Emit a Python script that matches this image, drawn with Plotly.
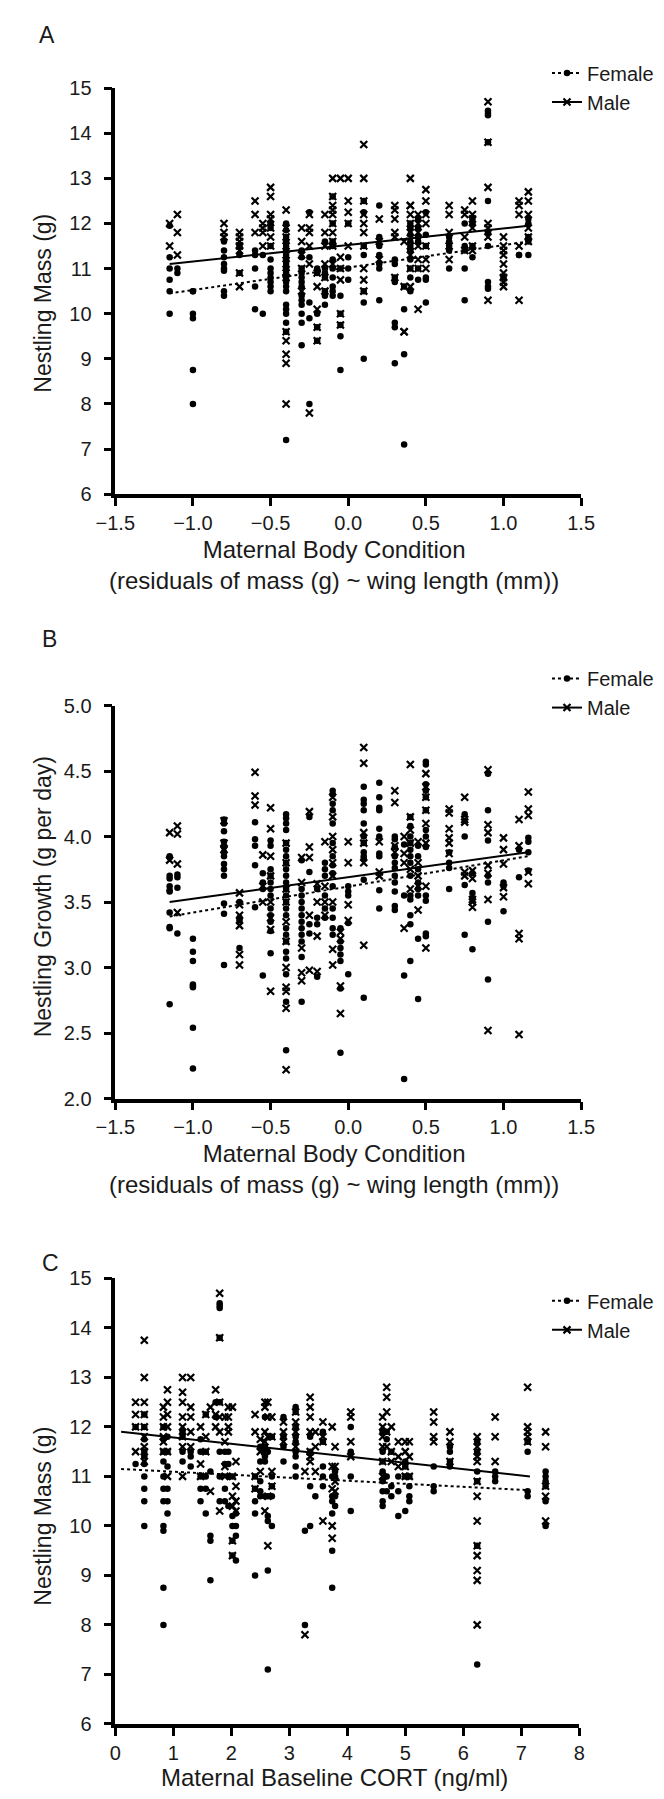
import plotly.graph_objects as go

# ---------------- Panel A / B shared x columns (maternal body condition) -------------
BC_COLS = [-1.15, -1.10, -1.00, -0.80, -0.70, -0.60, -0.55, -0.50, -0.40, -0.30,
           -0.25, -0.20, -0.15, -0.10, -0.05, 0.00, 0.10, 0.20, 0.30, 0.36,
           0.40, 0.45, 0.50, 0.65, 0.75, 0.80, 0.90, 1.00, 1.10, 1.16]

# Panel A: nestling mass (g)
A_FEMALE = [
    [11.95, 11.25, 11.0, 10.75, 10.5, 10.0],
    [11.0, 10.9],
    [10.5, 10.5, 10.0, 9.9, 8.75, 8.0],
    [11.6, 11.4, 11.25, 11.1, 11.0, 10.95, 10.5, 10.4],
    [11.5, 11.3, 10.9],
    [11.4, 11.3, 11.0, 10.6, 10.1],
    [11.3, 10.0],
    [12.0, 11.9, 11.5, 11.2, 11.0, 10.9, 10.8, 10.7, 10.6, 10.5],
    [12.0, 11.85, 11.7, 11.6, 11.5, 11.4, 11.3, 11.2, 11.1, 11.0, 10.9, 10.8, 10.7,
     10.6, 10.5, 10.2, 10.1, 10.0, 9.8, 9.6, 7.2],
    [11.4, 11.25, 11.0, 10.9, 10.8, 10.7, 10.6, 10.4, 10.3, 10.2, 10.0, 9.8, 9.3],
    [12.25, 11.25, 10.25, 9.9, 8.0],
    [11.0, 10.9, 10.0, 9.7, 9.4],
    [11.6, 11.0, 10.9, 10.8, 10.5, 10.4, 10.2],
    [12.6, 12.0, 11.6, 11.5, 11.2, 11.0, 10.8, 10.6, 10.5, 10.4],
    [11.0, 10.4, 10.0, 9.75, 9.5, 8.75],
    [12.0, 11.25, 11.0, 10.75],
    [12.5, 12.25, 11.5, 11.3, 10.5, 10.25, 9.0],
    [12.4, 11.7, 11.5, 11.3, 11.1, 11.0, 10.3],
    [11.2, 11.1, 10.8, 10.7, 9.8, 9.7, 8.9],
    [10.6, 10.1, 9.1, 7.1],
    [12.0, 11.9, 11.75, 11.6, 11.5, 11.4, 11.2, 11.0, 10.8, 10.5],
    [12.1, 11.9, 11.7, 11.6, 11.0, 10.75],
    [12.25, 11.75, 11.5, 10.8, 10.75, 10.25],
    [11.7, 11.6, 11.5, 11.4, 11.0],
    [12.0, 11.5, 11.4, 11.0, 10.3],
    [12.1, 12.0, 11.5, 11.25],
    [14.5, 14.45, 14.4, 13.8, 12.5, 11.8, 11.5, 10.7, 10.6, 10.55],
    [10.8],
    [11.3, 11.3],
    [12.1, 12.0, 11.7, 11.6, 11.3],
]
A_MALE = [
    [12.0, 11.5],
    [12.2, 11.8, 11.3],
    [],
    [12.0, 11.8, 11.7],
    [11.8, 11.7, 11.6, 11.5, 11.4, 10.9, 10.6],
    [12.5, 12.2, 11.8],
    [12.0, 11.9, 11.8, 11.5],
    [12.8, 12.6, 12.2, 12.1, 11.9, 11.7, 11.5],
    [12.3, 11.9, 11.7, 11.5, 11.3, 11.1, 10.9, 10.8, 9.6, 9.4, 9.1, 8.9, 8.0],
    [11.9, 11.6, 11.3, 11.0, 10.5],
    [12.2, 11.9, 11.8, 11.5, 11.1, 7.8],
    [10.9, 10.6, 10.1, 9.7, 9.4],
    [12.2, 11.8, 11.5, 11.1, 10.8, 10.5],
    [13.0, 12.6, 12.4, 12.3, 12.2, 12.0, 11.8, 11.6, 11.5, 11.1],
    [13.0, 11.25, 11.0, 10.75, 10.0, 9.75],
    [13.0, 12.5, 12.25, 12.0, 11.5],
    [13.75, 13.0, 12.5, 12.2, 12.0, 11.8, 11.5, 11.0, 10.75, 10.5],
    [12.1, 11.6, 11.2],
    [12.4, 12.3, 12.1, 11.8, 11.7, 10.8],
    [11.6, 10.6, 9.6, 9.6],
    [13.0, 12.4, 12.4, 12.2, 12.0, 11.8, 11.5, 11.3, 11.0, 10.6],
    [12.2, 12.0, 11.8, 11.5, 11.2, 11.0, 10.1],
    [12.75, 12.5, 12.2, 12.0, 11.5, 11.2, 11.0],
    [12.4, 12.2, 11.8, 11.5, 11.2],
    [12.3, 12.2, 11.7, 11.4],
    [12.5, 12.2, 12.1, 11.9, 11.5, 11.4],
    [14.7, 13.8, 12.8, 12.0, 11.9, 11.7, 10.3],
    [11.7, 11.5, 11.4, 11.3, 11.1, 10.9, 10.8, 10.7, 10.6],
    [12.5, 12.4, 12.2, 11.5, 10.3],
    [12.7, 12.5, 12.2, 11.9, 11.7, 11.6],
]
A_FIT_X = [-1.15, 1.16]
A_FIT_FEMALE = [10.45, 11.6]
A_FIT_MALE = [11.1, 11.95]

# Panel B: nestling growth (g per day)
B_FEMALE = [
    [3.85, 3.84, 3.70, 3.68, 3.62, 3.59, 3.58, 3.42, 3.31, 3.30, 2.72],
    [3.71, 3.69, 3.61, 3.26],
    [3.22, 3.12, 3.05, 2.87, 2.86, 2.85, 2.54, 2.23],
    [4.13, 4.10, 4.04, 3.96, 3.92, 3.88, 3.85, 3.79, 3.75, 3.70, 3.49, 3.41, 3.02],
    [3.50, 3.38, 3.36, 3.15],
    [4.11, 3.98, 3.93, 3.78, 3.46],
    [3.72, 3.65, 3.60, 2.94],
    [3.97, 3.93, 3.75, 3.70, 3.65, 3.60, 3.55, 3.45, 3.40, 3.35, 3.28, 3.11],
    [4.17, 4.14, 4.10, 4.05, 3.95, 3.90, 3.85, 3.80, 3.75, 3.70, 3.65, 3.60, 3.55,
     3.50, 3.45, 3.40, 3.30, 3.25, 3.20, 3.12, 3.07, 2.95, 2.74, 2.37],
    [3.82, 3.60, 3.55, 3.50, 3.45, 3.40, 3.35, 3.30, 3.25, 3.20, 3.08, 2.74],
    [4.15, 3.73, 3.33, 3.26],
    [3.60, 3.38, 3.33, 2.93],
    [3.80, 3.75, 3.70, 3.55, 3.45, 3.38],
    [4.35, 4.32, 4.25, 4.20, 4.10, 3.95, 3.85, 3.78, 3.72, 3.62, 3.45, 3.38, 3.30, 3.25],
    [3.30, 3.20, 3.15, 3.10, 3.05, 2.84, 2.35],
    [3.62, 3.58, 3.55, 3.34, 2.95],
    [4.38, 4.28, 4.25, 4.20, 4.10, 4.00, 3.95, 3.88, 3.85, 3.83, 3.67, 2.77],
    [4.41, 4.30, 4.22, 4.20, 4.06, 4.00, 3.87, 3.85, 3.59, 3.45],
    [4.00, 3.98, 3.92, 3.85, 3.80, 3.76, 3.70, 3.65, 3.58, 3.47, 3.44],
    [3.94, 3.55, 2.94, 2.15],
    [4.15, 4.08, 4.00, 3.95, 3.90, 3.85, 3.80, 3.70, 3.55, 3.52, 3.40, 3.33, 3.05],
    [3.93, 3.85, 3.75, 3.65, 3.60, 3.55, 3.22, 2.76],
    [4.57, 4.55, 4.40, 4.35, 4.30, 4.20, 4.05, 4.00, 3.92, 3.55, 3.51, 3.26, 3.24],
    [3.88, 3.80, 3.76, 3.60],
    [4.17, 4.00, 3.63, 3.25],
    [3.72, 3.57, 3.53, 3.14],
    [4.48, 4.20, 3.97, 3.70, 3.65, 3.35, 2.91],
    [3.65, 3.62, 3.43],
    [3.90, 3.69],
    [3.99, 3.96, 3.88, 3.74],
]
B_MALE = [
    [4.03, 3.82],
    [4.08, 4.02, 3.79, 3.42],
    [],
    [4.12, 3.95, 3.90],
    [3.57, 3.48, 3.40, 3.32, 3.10, 3.02],
    [4.49, 4.31, 4.24],
    [3.86, 3.62, 3.50],
    [4.22, 4.06, 3.85, 3.70, 3.50, 3.38, 3.29, 2.82],
    [3.95, 3.80, 3.60, 3.50, 3.35, 3.20, 3.00, 2.85, 2.82, 2.69, 2.22],
    [3.84, 3.65, 3.15, 2.96, 2.90],
    [4.19, 3.92, 3.84, 3.40, 2.98],
    [3.64, 3.50, 3.24, 2.97],
    [3.96, 3.62, 3.50, 3.40],
    [4.30, 4.15, 4.00, 3.90, 3.80, 3.70, 3.50, 3.14, 3.02],
    [3.27, 3.22, 2.86, 2.65],
    [3.96, 3.80, 3.48, 3.36],
    [4.68, 4.56, 4.03, 3.95, 3.80, 3.17],
    [3.96, 3.73, 3.70],
    [4.35, 4.26, 3.93, 3.88],
    [4.00, 3.87, 3.80, 3.30],
    [4.55, 4.15, 4.05, 3.95, 3.75, 3.60],
    [3.96, 3.80, 3.70, 3.62, 3.44],
    [4.48, 4.38, 4.30, 4.20, 4.10, 3.95, 3.62, 3.15],
    [4.21, 4.18, 4.06, 3.99, 3.95, 3.87],
    [4.30, 4.13, 4.11, 3.73, 3.70],
    [3.74, 3.68, 3.52, 3.50, 3.46],
    [4.51, 4.09, 4.03, 3.78, 3.72, 3.52, 2.52],
    [3.99, 3.90, 3.79, 3.61, 3.54],
    [4.13, 3.93, 3.26, 3.22, 2.49],
    [4.34, 4.21, 4.16, 3.73, 3.64],
]
B_FIT_X = [-1.15, 1.16]
B_FIT_FEMALE = [3.39, 3.85]
B_FIT_MALE = [3.50, 3.88]

# Panel C: maternal baseline CORT (ng/ml) vs nestling mass (g)
C_COLS = [0.35, 0.50, 0.83, 0.90, 1.16, 1.30, 1.47, 1.56, 1.64, 1.73, 1.80, 1.89,
          1.95, 2.02, 2.08, 2.41, 2.50, 2.58, 2.63, 2.70, 2.90, 3.11, 3.27, 3.36,
          3.45, 3.58, 3.74, 3.79, 4.06, 4.61, 4.68, 4.76, 4.88, 5.00, 5.07, 5.49,
          5.77, 6.24, 6.55, 7.11, 7.42]
C_FEMALE = [
    [12.0, 11.25],
    [12.25, 12.0, 11.75, 11.5, 11.4, 11.25, 11.0, 10.75, 10.5, 10.0],
    [12.0, 11.75, 11.5, 11.3, 11.0, 10.75, 10.5, 10.0, 9.9, 8.75, 8.0],
    [11.8, 11.5, 11.2, 10.75, 10.5, 10.25],
    [11.9, 11.8, 11.5, 11.3],
    [11.5, 11.4, 11.2],
    [11.75, 11.5, 11.0, 10.75, 10.5],
    [12.25, 11.5, 11.0, 10.75, 10.25],
    [11.1, 9.8, 9.7, 8.9],
    [12.5, 12.2],
    [14.5, 14.45, 14.4, 13.8, 12.5, 11.5, 11.0, 10.5],
    [11.5, 11.25, 10.75, 10.5],
    [11.5, 11.25, 11.0, 10.4],
    [11.0, 10.2, 10.0, 9.7, 9.4],
    [10.25, 10.0, 9.8, 9.3],
    [11.0, 10.75, 10.5, 10.25, 9.0],
    [11.6, 11.3, 10.9, 10.7, 10.6],
    [12.2, 11.6, 11.5, 11.4, 11.3, 10.6],
    [11.5, 10.6, 10.2, 10.1, 9.1, 7.1],
    [11.8, 11.0, 10.8, 10.6, 10.0],
    [12.2, 11.8, 11.6, 11.3],
    [12.4, 12.3, 12.0, 11.8, 11.7, 11.5, 11.4, 11.2, 11.0],
    [9.9, 8.0],
    [11.8, 11.5, 10.8, 10.0],
    [10.6],
    [11.9, 11.7, 11.2, 11.0, 10.8],
    [11.0, 10.6, 10.5, 10.25, 9.5, 8.75],
    [11.1, 11.0, 10.6, 10.4],
    [12.0, 11.5, 11.0, 10.3],
    [11.9, 11.5, 11.3, 11.1, 10.9, 10.7, 10.5, 10.4],
    [11.9, 11.75, 11.0, 10.7],
    [11.5, 10.8, 10.6],
    [11.0, 10.7, 10.2],
    [11.3, 11.2, 11.0, 10.3],
    [11.0, 10.8, 10.6, 10.5],
    [11.2, 10.8, 10.7],
    [11.6, 11.5, 11.3, 11.2],
    [11.7, 11.5, 11.1, 10.9, 9.6, 7.2],
    [11.1, 11.0, 10.9],
    [11.7, 11.5, 10.7, 10.6],
    [11.1, 11.0, 10.9, 10.8, 10.5, 10.0],
]
C_MALE = [
    [12.5, 12.25, 12.0, 11.5],
    [13.75, 13.0, 12.5, 12.25, 12.0, 11.8, 11.6, 11.5, 11.3],
    [12.4, 12.2, 12.0, 11.8, 11.7, 11.5],
    [12.75, 12.5, 12.25, 12.0, 11.5, 11.0],
    [13.0, 12.7, 12.5, 12.2, 12.0, 11.8, 11.6, 11.0],
    [13.0, 12.4, 12.2, 11.9, 11.6],
    [12.0, 11.25, 11.0],
    [12.25, 11.8, 11.5],
    [12.4, 10.7],
    [12.75, 12.25, 12.0],
    [14.7, 13.8, 12.5, 12.2, 11.9, 10.3],
    [12.2, 11.7, 11.2, 11.0],
    [12.4, 12.2, 12.0, 11.9],
    [12.4, 11.0, 10.6, 10.4, 9.7, 9.4],
    [11.3, 10.8, 10.5, 10.3],
    [12.25, 11.9, 11.0, 10.75],
    [11.75, 11.5, 11.1],
    [12.5, 12.4, 11.9, 11.7, 11.5, 10.3],
    [12.5, 12.2, 11.8, 10.6, 9.6],
    [12.2, 11.8, 11.1, 10.8],
    [12.1, 11.9, 11.7],
    [12.3, 12.1, 11.9, 11.6],
    [11.1, 7.8],
    [12.6, 12.4, 12.2, 11.9, 11.5, 11.4, 11.3],
    [11.9, 11.6, 11.1],
    [12.1, 11.8, 11.7, 10.1],
    [12.0, 11.2, 10.75, 10.0, 9.75],
    [11.6, 11.2, 10.9, 10.7],
    [12.3, 12.2, 11.7, 11.4],
    [12.2, 12.0, 11.8, 11.6, 11.3, 11.0],
    [12.8, 12.6, 12.3, 11.9, 11.6],
    [12.0, 11.5, 11.3],
    [11.7, 11.4, 11.2],
    [11.7, 11.5, 11.2, 11.0],
    [11.7, 11.4, 11.0],
    [12.3, 12.1, 11.8, 11.7],
    [11.9, 11.7, 11.3],
    [11.8, 11.6, 11.4, 11.3, 10.9, 10.6, 10.1, 9.6, 9.4, 9.1, 8.9, 8.0],
    [12.2, 11.8, 11.3],
    [12.8, 12.0, 11.9, 11.8, 11.7],
    [11.9, 11.6, 10.8, 10.6, 10.1],
]
C_FIT_X = [0.1, 7.15]
C_FIT_FEMALE = [11.15, 10.72]
C_FIT_MALE = [11.9, 11.0]

PANEL_LABELS = ["A", "B", "C"]
LEGEND_NAMES = ["Female", "Male"]
X_TITLES = ["Maternal Body Condition<br>(residuals of mass (g) ~ wing length (mm))",
            "Maternal Body Condition<br>(residuals of mass (g) ~ wing length (mm))",
            "Maternal Baseline CORT (ng/ml)"]
Y_TITLES = ["Nestling Mass (g)", "Nestling Growth (g per day)", "Nestling Mass (g)"]


def flatten(cols, groups):
    xs, ys = [], []
    for c, g in zip(cols, groups):
        for v in g:
            xs.append(c)
            ys.append(v)
    return xs, ys


FONT = "Liberation Sans, Arial, sans-serif"
TXT = "#1a1a1a"
W, H = 664, 1799

# pixel layout (top-left origin)
PANELS = [
    dict(left=92, right=583, top=70, bottom=481, label=16, labx=9, leg=35,
         xt=553, yt=288),
    dict(left=92, right=583, top=695, bottom=1093, label=628, labx=13, leg=648,
         xt=1164, yt=889),
    dict(left=92, right=581, top=1275, bottom=1726, label=1259, labx=13, leg=1278,
         xt=1780, yt=1516),
]


def py(v):
    return 1 - v / H


def px(v):
    return v / W


fig = go.Figure()

panel_data = [
    (BC_COLS, A_FEMALE, A_MALE, A_FIT_X, A_FIT_FEMALE, A_FIT_MALE),
    (BC_COLS, B_FEMALE, B_MALE, B_FIT_X, B_FIT_FEMALE, B_FIT_MALE),
    (C_COLS, C_FEMALE, C_MALE, C_FIT_X, C_FIT_FEMALE, C_FIT_MALE),
]

fem_marker = dict(symbol="circle", size=6.5, color="black")
male_marker = dict(symbol="x-thin", size=7, color="black",
                   line=dict(color="black", width=2.2))

for i, (cols, fem, mal, fx, ff, fm) in enumerate(panel_data):
    xa = "x" if i == 0 else f"x{i+1}"
    ya = "y" if i == 0 else f"y{i+1}"
    lg = "legend" if i == 0 else f"legend{i+1}"
    x1, y1 = flatten(cols, fem)
    x2, y2 = flatten(cols, mal)
    fig.add_trace(go.Scatter(x=x1, y=y1, mode="markers", marker=fem_marker,
                             xaxis=xa, yaxis=ya, showlegend=False))
    fig.add_trace(go.Scatter(x=x2, y=y2, mode="markers", marker=male_marker,
                             xaxis=xa, yaxis=ya, showlegend=False))
    fig.add_trace(go.Scatter(x=fx, y=ff, mode="lines",
                             line=dict(color="black", width=2, dash="dot"),
                             xaxis=xa, yaxis=ya, showlegend=False))
    fig.add_trace(go.Scatter(x=fx, y=fm, mode="lines",
                             line=dict(color="black", width=2),
                             xaxis=xa, yaxis=ya, showlegend=False))
    fig.add_trace(go.Scatter(x=[None], y=[None], mode="lines+markers",
                             name=LEGEND_NAMES[0], marker=fem_marker,
                             line=dict(color="black", width=2, dash="dot"),
                             xaxis=xa, yaxis=ya, legend=lg))
    fig.add_trace(go.Scatter(x=[None], y=[None], mode="lines+markers",
                             name=LEGEND_NAMES[1], marker=male_marker,
                             line=dict(color="black", width=2),
                             xaxis=xa, yaxis=ya, legend=lg))

axis_common = dict(showline=True, linecolor="black", linewidth=3.5, ticks="outside",
                   ticklen=8, tickwidth=3, tickcolor="black", showgrid=False,
                   zeroline=False, tickfont=dict(family=FONT, size=20, color=TXT),
                   mirror=False)

xranges = [[-1.5, 1.5], [-1.5, 1.5], [0, 8]]
yranges = [[6, 15], [2, 5], [6, 15]]
xdt = [0.5, 0.5, 1]
ydt = [1, 0.5, 1]
xfmt = [".1f", ".1f", "d"]
yfmt = ["d", ".1f", "d"]

layout = dict(width=W, height=H, margin=dict(l=0, r=0, t=0, b=0),
              paper_bgcolor="white", plot_bgcolor="white",
              font=dict(family=FONT, color=TXT))
for i, p in enumerate(PANELS):
    sx = "" if i == 0 else str(i + 1)
    layout[f"xaxis{sx}"] = dict(
        axis_common, domain=[px(p["left"]), px(p["right"])], range=xranges[i],
        dtick=xdt[i], tick0=xranges[i][0], tickformat=xfmt[i],
        anchor=f"y{sx}", ticklabelstandoff=0)
    layout[f"yaxis{sx}"] = dict(
        axis_common, domain=[py(p["bottom"]), py(p["top"])], range=yranges[i],
        dtick=ydt[i], tick0=yranges[i][0], tickformat=yfmt[i],
        anchor=f"x{sx}", ticklabelstandoff=8)
    lg = "legend" if i == 0 else f"legend{i+1}"
    layout[lg] = dict(x=px(547), y=py(p["leg"]), xanchor="left", yanchor="top",
                      bgcolor="rgba(0,0,0,0)",
                      font=dict(family=FONT, size=20, color=TXT),
                      itemwidth=30, tracegroupgap=0)

fig.update_layout(**layout)

for i, p in enumerate(PANELS):
    fig.add_annotation(text=PANEL_LABELS[i], xref="paper", yref="paper",
                       x=px(p["labx"]), y=py(p["label"]), xanchor="left",
                       yanchor="middle", showarrow=False,
                       font=dict(family=FONT, size=23, color=TXT))
    fig.add_annotation(text=Y_TITLES[i], xref="paper", yref="paper",
                       x=px(16), y=py(p["yt"]),
                       xanchor="center", yanchor="middle", textangle=-90,
                       showarrow=False, font=dict(family=FONT, size=23, color=TXT))
    fig.add_annotation(text=X_TITLES[i], xref="paper", yref="paper",
                       x=px(323), y=py(p["xt"]), xanchor="center", yanchor="middle",
                       showarrow=False, font=dict(family=FONT, size=24, color=TXT))

fig.write_html("out.html")
